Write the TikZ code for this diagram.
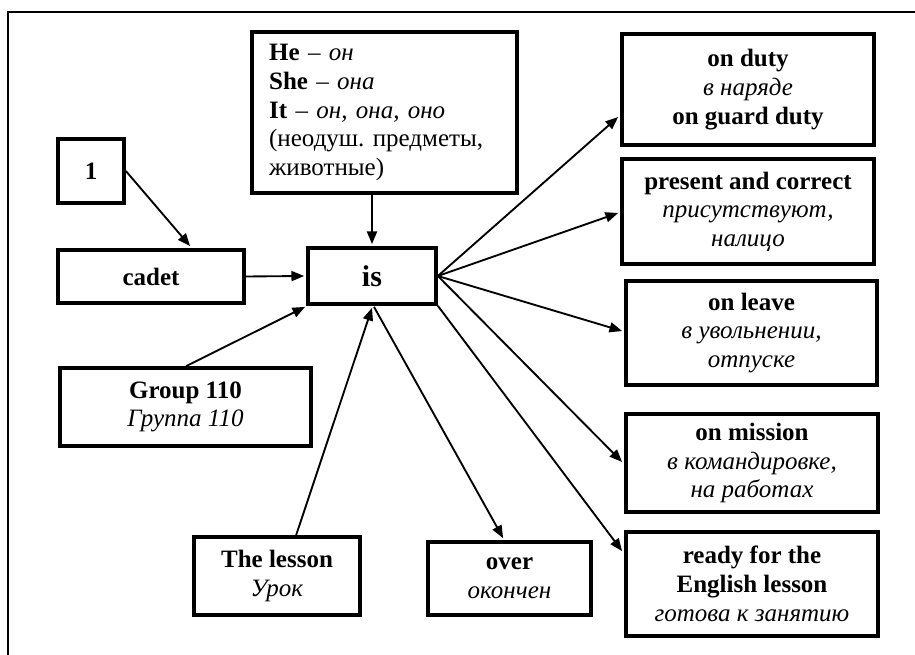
\documentclass[tikz,border=0pt]{standalone}
\usepackage{fontspec}
\setmainfont{Liberation Serif}
\usetikzlibrary{arrows.meta,calc}
\frenchspacing
\begin{document}
\begin{tikzpicture}[x=0.75pt,y=-0.75pt,
  box/.style={draw,line width=2.8pt,inner sep=0pt,align=center,font=\fontsize{18.75pt}{21.5pt}\selectfont},
  arr/.style={line width=1.4pt,-{Triangle[length=9.5pt,width=7.5pt]}},
  frame/.style={line width=1.1pt}]
\useasboundingbox (0,0) rectangle (915,655);
\draw[frame] (915,12) -- (8,12) -- (8,655);
\node[box,minimum width=49.5pt,minimum height=48pt] (one) at (91,171) {\textbf{1}};
\node[box,minimum width=139.5pt,minimum height=39.75pt] (cadet) at (151,276.5) {\textbf{cadet}};
\node[box,minimum width=198.75pt,minimum height=120.75pt,text width=173pt,inner xsep=12.75pt,align=left] (pron) at (384.5,112.5)
  {\frenchspacing\textbf{He} – \textit{он}\\\textbf{She} – \textit{она}\\\textbf{It} – \textit{он, она, оно}\\(неодуш. предметы,\\животные)};
\node[box,minimum width=96pt,minimum height=42pt,font=\fontsize{22.5pt}{26pt}\selectfont] (is) at (372,276) {\textbf{is}};
\node[box,minimum width=189pt,minimum height=83.25pt] (duty) at (748,89.5) {\textbf{on duty}\\\textit{в наряде}\\\textbf{on guard duty}};
\node[box,minimum width=189pt,minimum height=78.75pt] (present) at (748,211.5) {\textbf{present and correct}\\\textit{присутствуют,}\\\textit{налицо}};
\node[box,minimum width=188.25pt,minimum height=78pt] (leave) at (751.5,333) {\textbf{on leave}\\\textit{в увольнении,}\\\textit{отпуске}};
\node[box,minimum width=189pt,minimum height=73.5pt] (mission) at (752,463) {\textbf{on mission}\\\textit{в командировке,}\\\textit{на работах}};
\node[box,minimum width=189pt,minimum height=78pt] (ready) at (752,584) {\textbf{ready for the}\\\textbf{English lesson}\\\textit{готова к занятию}};
\node[box,minimum width=188.25pt,minimum height=58.5pt] (group) at (185.5,407) {\textbf{Group 110}\\\textit{Группа 110}};
\node[box,minimum width=124.5pt,minimum height=58.5pt] (lesson) at (277,576) {\textbf{The lesson}\\\textit{Урок}};
\node[box,minimum width=122.25pt,minimum height=54.75pt] (over) at (509.5,578.5) {\textbf{over}\\\textit{окончен}};
\draw[arr] (one.east) -- ($(cadet.north west)+(134,-2)$);
\draw[arr] (cadet.east) -- ($(is.west)+(-2,0)$);
\draw[arr] (is.north |- pron.south) -- ($(is.north)+(0,-2)$);
\draw[arr] ($(group.north west)+(128,0)$) -- ($(is.south west)+(-1,1)$);
\draw[arr] ($(lesson.north west)+(104,0)$) -- ($(is.south)+(0,2)$);
\draw[arr] ($(is.south)+(2,1)$) -- ($(over.north west)+(77,-2)$);
\draw[arr] (is.east) -- ($(duty.west)+(-2,27.5)$);
\draw[arr] (is.east) -- ($(present.west)+(-2,1.5)$);
\draw[arr] (is.east) -- ($(leave.west)+(-2,-2)$);
\draw[arr] (is.east) -- ($(mission.west)+(-2,-1)$);
\draw[arr] (is.south east) -- ($(ready.north west)+(-2,21)$);
\end{tikzpicture}
\end{document}
